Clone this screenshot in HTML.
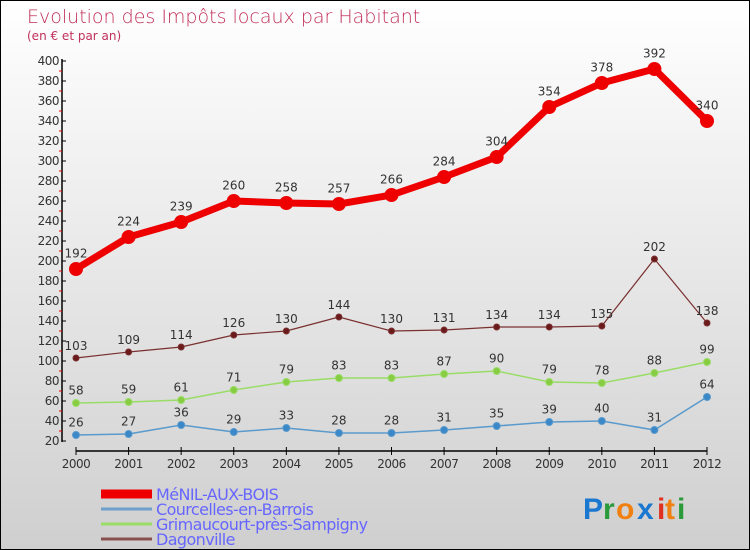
<!DOCTYPE html>
<html><head><meta charset="utf-8"><style>
body{margin:0}
#c{width:748px;height:548px;border:1px solid #000;background:linear-gradient(#fff,#cfcfcf);position:relative;font-family:"DejaVu Sans","Liberation Sans",sans-serif;overflow:hidden}
</style></head><body>
<div id="c">
<svg id="s" width="748" height="548" xmlns="http://www.w3.org/2000/svg">
<text x="26" y="22" font-size="19" fill="#c0305a" font-family="DejaVu Sans, sans-serif" font-weight="200">Evolution des Impôts locaux par Habitant</text>
<text x="26" y="39" font-size="12" fill="#c0305a">(en € et par an)</text>
<g id="axes"></g><g id="series"></g><g id="legend"></g>
<g font-size="30" font-family="Liberation Sans, sans-serif" font-weight="bold">
<text x="582" y="518" fill="#1a78d0">P</text><text x="602" y="518" fill="#2a9a3a">r</text><text x="615" y="518" fill="#f08010">o</text><text x="636" y="518" fill="#1a78d0">x</text><text x="656" y="518" fill="#e03020">i</text><text x="664" y="518" fill="#f08010">t</text><text x="676" y="518" fill="#2a9a3a">i</text>
</g>
</svg>
</div>
<script>
const years=[2000,2001,2002,2003,2004,2005,2006,2007,2008,2009,2010,2011,2012];
const menil=[192,224,239,260,258,257,266,284,304,354,378,392,340];
const courcelles=[26,27,36,29,33,28,28,31,35,39,40,31,64];
const grimaucourt=[58,59,61,71,79,83,83,87,90,79,78,88,99];
const dagonville=[103,109,114,126,130,144,130,131,134,134,135,202,138];
const yTicks=[20,40,60,80,100,120,140,160,180,200,220,240,260,280,300,320,340,360,380,400];
const NS="http://www.w3.org/2000/svg";
const xS=i=>75+i*(706-75)/12;
const yS=v=>460-v;
function mk(tag,attrs,parent){const e=document.createElementNS(NS,tag);for(const k in attrs)e.setAttribute(k,attrs[k]);parent.appendChild(e);return e;}
const ax=document.getElementById('axes');
let a=mk('line',{x1:61,y1:58,x2:61,y2:441,stroke:'#000','stroke-width':1.5},ax);


a=mk('line',{x1:75,y1:450,x2:706,y2:450,stroke:'#000','stroke-width':1.5},ax);


yTicks.forEach(v=>{
 mk('line',{x1:61,y1:yS(v),x2:65,y2:yS(v),stroke:'#000'},ax);
 if(v<400)mk('line',{x1:58,y1:yS(v+10),x2:61,y2:yS(v+10),stroke:'#e00'},ax);
 const t=mk('text',{x:58,y:yS(v)+4,'font-size':12,fill:'#333','text-anchor':'end','letter-spacing':'-0.5'},ax);
 t.textContent=v;
 
 
});
years.forEach((y,i)=>{
 mk('line',{x1:xS(i),y1:446,x2:xS(i),y2:454,stroke:'#000'},ax);
 const t=mk('text',{x:xS(i),y:467,'font-size':12,fill:'#333','text-anchor':'middle','letter-spacing':'-0.5'},ax);
 t.textContent=y;
 
 
});
const sg=document.getElementById('series');
function draw(vals,color,w,r,name,dot){
 const g=mk('g',{},sg);
 
 
 const p=mk('polyline',{points:vals.map((v,i)=>xS(i)+','+yS(v)).join(' '),fill:'none',stroke:color,'stroke-width':w,'stroke-linejoin':'round'},g);
 
 
 vals.forEach((v,i)=>{
  const c=mk('circle',{cx:xS(i),cy:yS(v),r:r,fill:dot,stroke:color,'stroke-width':1},g);
  
  
  const t=mk('text',{x:xS(i),y:yS(v)-r-5,'font-size':12,fill:'#333','text-anchor':'middle'},g);
  t.textContent=v;
  
  
 });
}
draw(courcelles,'#5a9acc',1.5,3.5,'courcelles','#3a88c8');
draw(grimaucourt,'#99dd66',1.5,3.5,'grimaucourt','#88cc44');
draw(dagonville,'#7a3030',1.2,3,'dagonville','#6a1a1a');
draw(menil,'#ee0000',7,6.5,'menil','#ee0000');
const lg=document.getElementById('legend');
[['MéNIL-AUX-BOIS','#ee0000',9],['Courcelles-en-Barrois','#6fa0cc',3],['Grimaucourt-près-Sampigny','#99dd66',3],['Dagonville','#8a5050',3]].forEach((d,i)=>{
 const y=493+i*15;
 const l=mk('line',{x1:100,y1:y,x2:151,y2:y,stroke:d[1],'stroke-width':d[2]},lg);
 
 
 const t=mk('text',{x:155,y:y+6,'font-size':16,fill:'#6666ff','letter-spacing':'-0.6'},lg);
 t.textContent=d[0];
 
 
});
</script>
</body></html>
